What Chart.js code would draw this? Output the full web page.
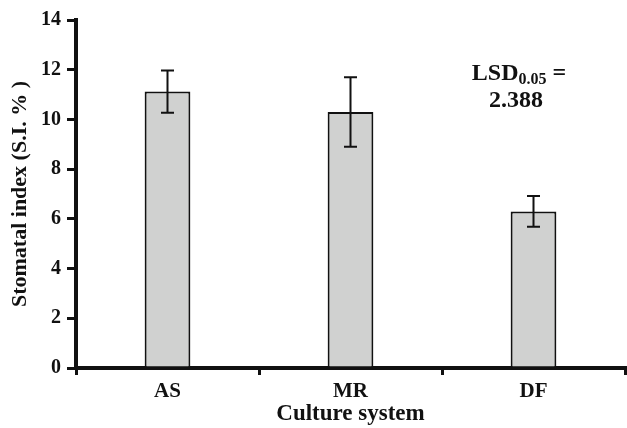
<!DOCTYPE html>
<html>
<head>
<meta charset="utf-8">
<script src="https://cdn.jsdelivr.net/npm/chart.js@4.4.1/dist/chart.umd.min.js"></script>
<style>
html,body{margin:0;padding:0;background:#fff;}
#wrap{width:627px;height:428px;position:relative;}
</style>
</head>
<body>
<div id="wrap"><canvas id="c" width="627" height="428"></canvas></div>
<script>
const categories = ["AS", "MR", "DF"];
const stomatalIndex = [11.12, 10.3, 6.3];
const errorValues = [0.85, 1.4, 0.62];
const yTicks = [0, 2, 4, 6, 8, 10, 12, 14];
const annotationLines = ["LSD", "0.05", " =", "2.388"];

const FONT = "'Liberation Serif', 'Times New Roman', serif";

const errorBarPlugin = {
  id: 'errorBars',
  afterDatasetsDraw(chart) {
    const ctx = chart.ctx;
    const meta = chart.getDatasetMeta(0);
    const ys = chart.scales.y;
    ctx.save();
    ctx.strokeStyle = '#111';
    ctx.lineWidth = 2;
    meta.data.forEach((bar, i) => {
      const v = stomatalIndex[i], e = errorValues[i];
      const x = bar.x;
      const yTop = ys.getPixelForValue(v + e);
      const yBot = ys.getPixelForValue(v - e);
      const cap = 6.5;
      ctx.beginPath();
      ctx.moveTo(x, yTop); ctx.lineTo(x, yBot);
      ctx.moveTo(x - cap, yTop); ctx.lineTo(x + cap, yTop);
      ctx.moveTo(x - cap, yBot); ctx.lineTo(x + cap, yBot);
      ctx.stroke();
    });
    ctx.restore();
  }
};

const lsdPlugin = {
  id: 'lsdText',
  afterDraw(chart) {
    const ctx = chart.ctx;
    ctx.save();
    ctx.fillStyle = '#111';
    ctx.textBaseline = 'alphabetic';
    const big = "bold 24px " + FONT;
    const small = "bold 16px " + FONT;
    ctx.font = big;
    const w1 = ctx.measureText(annotationLines[0]).width;
    const w3 = ctx.measureText(annotationLines[2]).width;
    ctx.font = small;
    const w2 = ctx.measureText(annotationLines[1]).width;
    const total = w1 + w2 + w3;
    const cx = 519;
    let x = cx - total / 2;
    const base1 = 80;
    ctx.textAlign = 'left';
    ctx.font = big; ctx.fillText(annotationLines[0], x, base1); x += w1;
    ctx.font = small; ctx.fillText(annotationLines[1], x, base1 + 4); x += w2;
    ctx.font = big; ctx.fillText(annotationLines[2], x, base1);
    ctx.textAlign = 'center';
    ctx.fillText(annotationLines[3], 516, 107);
    ctx.restore();
  }
};

new Chart(document.getElementById('c'), {
  type: 'bar',
  data: {
    labels: categories,
    datasets: [{
      data: stomatalIndex,
      backgroundColor: '#d0d1d0',
      borderColor: '#111',
      borderWidth: 2,
      barPercentage: 0.25,
      categoryPercentage: 1.0
    }]
  },
  options: {
    responsive: false,
    animation: false,
    devicePixelRatio: 1,
    layout: { padding: { top: 20, right: 2, left: 0, bottom: 0 } },
    plugins: { legend: { display: false }, tooltip: { enabled: false } },
    scales: {
      x: {
        grid: { offset: true, drawOnChartArea: false, color: '#111', lineWidth: 3, tickLength: 7 },
        border: { display: true, color: '#111', width: 4 },
        ticks: { color: '#111', font: { family: FONT, size: 21, weight: 'bold' }, padding: 4 },
        title: { display: true, text: 'Culture system', color: '#111', font: { family: FONT, size: 23, weight: 'bold' }, padding: { top: 0, bottom: 0 } },
        afterFit(scale) { scale.height = 60; }
      },
      y: {
        min: 0, max: 14,
        afterBuildTicks(scale) { scale.ticks = yTicks.map(v => ({ value: v })); },
        grid: { drawOnChartArea: false, color: '#111', lineWidth: 3, tickLength: 9 },
        border: { display: true, color: '#111', width: 4 },
        ticks: { color: '#111', font: { family: FONT, size: 20, weight: 'bold' }, padding: 6 },
        title: { display: true, text: 'Stomatal index (S.I. % )', color: '#111', font: { family: FONT, size: 22, weight: 'bold' }, padding: { top: 7, bottom: 4 } },
        afterFit(scale) { scale.width = 76; }
      }
    }
  },
  plugins: [errorBarPlugin, lsdPlugin]
});
</script>
</body>
</html>
